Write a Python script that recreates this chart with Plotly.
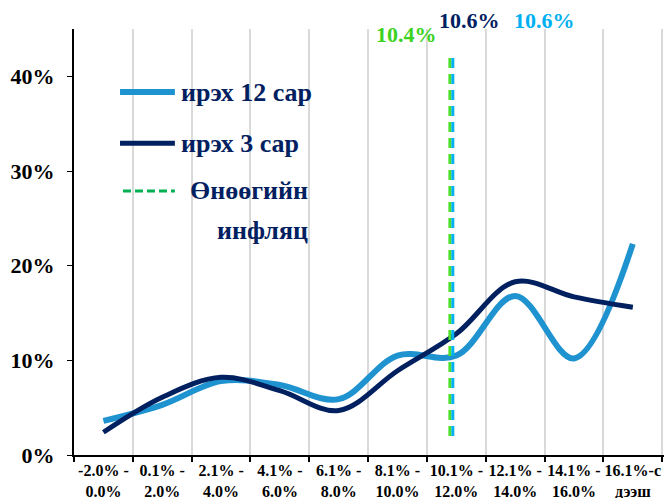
import plotly.graph_objects as go

categories = ["-2.0% -<br>0.0%", "0.1% -<br>2.0%", "2.1% -<br>4.0%", "4.1% -<br>6.0%",
              "6.1% -<br>8.0%", "8.1% -<br>10.0%", "10.1% -<br>12.0%", "12.1% -<br>14.0%",
              "14.1% -<br>16.0%", "16.1%-с<br>дээш"]
next_12m = [3.6, 5.3, 7.8, 7.4, 5.9, 10.5, 10.5, 16.8, 10.2, 22.3]
next_3m = [2.4, 6.1, 8.2, 6.8, 4.7, 8.9, 12.8, 18.3, 16.7, 15.6]
current_inflation_labels = ["10.4%", "10.6%", "10.6%"]
y_ticks = [0, 10, 20, 30, 40]
y_tick_text = ["0%", "10%", "20%", "30%", "40%"]

NAVY = "#002060"
LBLUE = "#1f93d0"
GREEN_TXT = "#3cd21e"
GREEN_LINE = "#4ee02a"
CYAN = "#00b0f0"
FONT = "Liberation Serif, Times New Roman, Tinos, serif"

fig = go.Figure()
fig.add_trace(go.Scatter(x=categories, y=next_12m, mode="lines", name="ирэх 12 сар",
                         line=dict(color=LBLUE, width=6, shape="spline", smoothing=1.0)))
fig.add_trace(go.Scatter(x=categories, y=next_3m, mode="lines", name="ирэх 3 сар",
                         line=dict(color=NAVY, width=5, shape="spline", smoothing=1.0)))

# current inflation vertical dashed lines (position within category axis)
fig.add_shape(type="line", xref="x", yref="y", x0=5.89, x1=5.89, y0=2, y1=42,
              line=dict(color=GREEN_LINE, width=3, dash="10px,6px"))
fig.add_shape(type="line", xref="x", yref="y", x0=5.94, x1=5.94, y0=2, y1=42,
              line=dict(color=CYAN, width=3, dash="10px,6px"))

def ann(x, y, text, size, color, xanchor="center"):
    fig.add_annotation(x=x, y=y, xref="paper", yref="paper", text="<b>%s</b>" % text,
                       showarrow=False, xanchor=xanchor, yanchor="middle",
                       font=dict(family=FONT, size=size, color=color))

# top labels
ann(0.563, 0.986, current_inflation_labels[0], 22, GREEN_TXT)
ann(0.671, 1.019, current_inflation_labels[1], 22, NAVY)
ann(0.798, 1.019, current_inflation_labels[2], 22, CYAN)

# manual legend
lx0, lx1 = 0.078, 0.171
fig.add_shape(type="line", xref="paper", yref="paper", x0=lx0, x1=lx1, y0=0.852, y1=0.852,
              line=dict(color=LBLUE, width=6))
fig.add_shape(type="line", xref="paper", yref="paper", x0=lx0, x1=lx1, y0=0.732, y1=0.732,
              line=dict(color=NAVY, width=5))
fig.add_shape(type="line", xref="paper", yref="paper", x0=lx0 + 0.005, x1=lx1, y0=0.620, y1=0.620,
              line=dict(color="#00b050", width=3, dash="8px,4px"))
ann(0.178, 0.852, "ирэх 12 сар", 26, NAVY, "left")
ann(0.178, 0.732, "ирэх 3 сар", 26, NAVY, "left")
ann(0.40, 0.620, "Өнөөгийн", 26, NAVY, "right")
ann(0.40, 0.528, "инфляц", 26, NAVY, "right")

fig.update_layout(
    width=664, height=498,
    margin=dict(l=74, r=0, t=29, b=43, autoexpand=False),
    paper_bgcolor="white", plot_bgcolor="white",
    showlegend=False,
    xaxis=dict(type="category", range=[-0.5, 9.53], tickson="boundaries", automargin=False,
               showgrid=True, gridcolor="#d9d9d9", gridwidth=2,
               showline=True, linecolor="black", linewidth=2,
               ticks="outside", ticklen=5, tickcolor="black", tickwidth=2,
               tickvals=categories, ticktext=["<b>%s</b>" % c for c in categories],
               tickfont=dict(family=FONT, size=16, color="black"),
               tickangle=0),
    yaxis=dict(range=[0, 45], tickvals=y_ticks, ticktext=["<b>%s</b>" % t for t in y_tick_text],
               automargin=False, showgrid=False, zeroline=False,
               showline=True, linecolor="black", linewidth=2,
               ticks="outside", ticklen=5, tickcolor="black", tickwidth=1,
               ticklabelstandoff=8,
               tickfont=dict(family=FONT, size=22, color="black")),
)

fig.write_html("out.html", config={"displayModeBar": False})
with open("out.html", encoding="utf-8") as f:
    html = f.read()
html = html.replace("<head>", "<head><style>html,body{margin:0;padding:0;overflow:hidden;}</style>", 1)
with open("out.html", "w", encoding="utf-8") as f:
    f.write(html)
